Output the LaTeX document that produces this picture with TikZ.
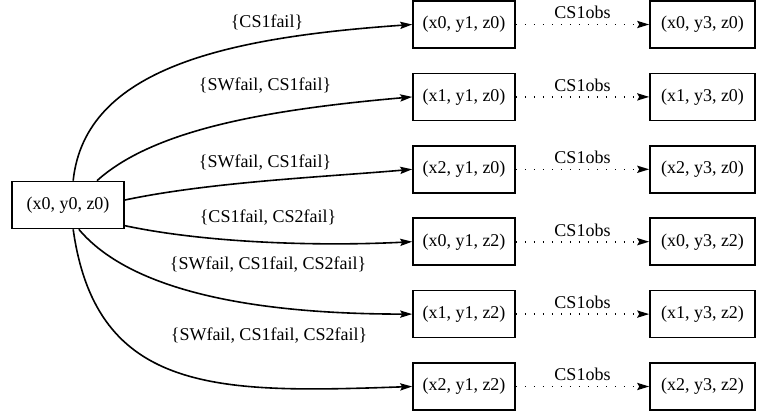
\documentclass[tikz,border=0pt]{standalone}
\usepackage{fontspec}
\setmainfont{Liberation Serif}
\usepackage{tikz}
\usetikzlibrary{arrows.meta}

\begin{document}
\begin{tikzpicture}[x=0.5pt,y=0.5pt,font=\fontsize{9}{11}\selectfont]
\useasboundingbox (0,0) rectangle (757,414);
\begin{scope}[every node/.style={rectangle,draw,line width=0.8pt,minimum height=23.5pt,inner sep=0pt}]
  \node[minimum width=56pt] (S) at (68,209) {(x0, y0, z0)};
    \node[minimum width=51pt] (M1) at (464,389.5) {(x0, y1, z0)};
    \node[minimum width=51pt] (M2) at (464,317.1) {(x1, y1, z0)};
    \node[minimum width=51pt] (M3) at (464,244.7) {(x2, y1, z0)};
    \node[minimum width=51pt] (M4) at (464,172.3) {(x0, y1, z2)};
    \node[minimum width=51pt] (M5) at (464,99.9) {(x1, y1, z2)};
    \node[minimum width=51pt] (M6) at (464,27.5) {(x2, y1, z2)};
    \node[minimum width=52.5pt] (R1) at (702.5,389.5) {(x0, y3, z0)};
    \node[minimum width=52.5pt] (R2) at (702.5,317.1) {(x1, y3, z0)};
    \node[minimum width=52.5pt] (R3) at (702.5,244.7) {(x2, y3, z0)};
    \node[minimum width=52.5pt] (R4) at (702.5,172.3) {(x0, y3, z2)};
    \node[minimum width=52.5pt] (R5) at (702.5,99.9) {(x1, y3, z2)};
    \node[minimum width=52.5pt] (R6) at (702.5,27.5) {(x2, y3, z2)};
\end{scope}

% failure sets
\begin{scope}[every node/.style={inner sep=1pt}]
    \node (f1) at (267,392) {\{CS1fail\}};
    \node (f2) at (265,328) {\{SWfail, CS1fail\}};
    \node (f3) at (265,251) {\{SWfail, CS1fail\}};
    \node (f4) at (268,196) {\{CS1fail, CS2fail\}};
    \node (f5) at (268,149) {\{SWfail, CS1fail, CS2fail\}};
    \node (f6) at (269,78) {\{SWfail, CS1fail, CS2fail\}};
\end{scope}

\begin{scope}[>={Stealth[length=6pt,width=3.6pt,inset=1pt]},
              every edge/.style={draw=black, line width=0.8pt}]
    \path[->] (S.78) edge[out=84, in=184, out distance=57pt, in distance=92pt] (M1.west);
    \path[->] (S.40) edge[out=42, in=185, out distance=37.5pt, in distance=75pt] (M2.west);
    \path[->] (S.5) edge[out=12, in=185, distance=43.5pt] (M3.west);
    \path[->] (S.-20) edge[out=-12, in=183, distance=43.5pt] (M4.west);
    \path[->] (S.-66) edge[out=-50, in=180, out distance=40pt, in distance=80pt] (M5.west);
    \path[->] (S.-78) edge[out=-82, in=182, out distance=84pt, in distance=96pt] (M6.west);
\end{scope}

% observation steps
\begin{scope}[>={Stealth[length=6pt,width=3.6pt,inset=1pt]},
              every edge/.style={draw=black, line width=0.8pt, dash pattern=on 0.8pt off 3.7pt}]
    \path[->] (M1) edge node[above=-1pt] (o1) {CS1obs} (R1);
    \path[->] (M2) edge node[above=-1pt] (o2) {CS1obs} (R2);
    \path[->] (M3) edge node[above=-1pt] (o3) {CS1obs} (R3);
    \path[->] (M4) edge node[above=-1pt] (o4) {CS1obs} (R4);
    \path[->] (M5) edge node[above=-1pt] (o5) {CS1obs} (R5);
    \path[->] (M6) edge node[above=-1pt] (o6) {CS1obs} (R6);
\end{scope}
\end{tikzpicture}
\end{document}
